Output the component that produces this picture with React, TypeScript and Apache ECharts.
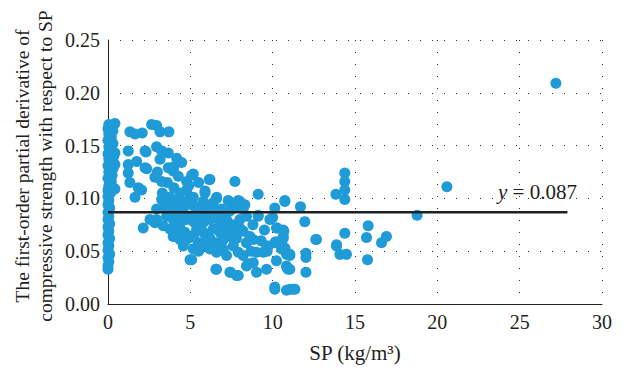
import React, { useEffect, useRef } from "react";
import * as echarts from "echarts";

// SP (kg/m3) vs first-order partial derivative — points near SP = 0
const columnPoints: [number, number][] = [
  [0, 0.033], [0, 0.036], [0.05, 0.04], [0, 0.044], [0.1, 0.047], [0, 0.051], [0.05, 0.055], [0, 0.058],
  [0.1, 0.062], [0, 0.065], [0.05, 0.069], [0, 0.073], [0.1, 0.076], [0, 0.08], [0.05, 0.083], [0, 0.087],
  [0.1, 0.091], [0, 0.094], [0.05, 0.098], [0, 0.102], [0.15, 0.105], [0, 0.108], [0.3, 0.11], [0.05, 0.112],
  [0.2, 0.116], [0, 0.119], [0.25, 0.122], [0.05, 0.125], [0.3, 0.128], [0, 0.131], [0.2, 0.134], [0.05, 0.137],
  [0.35, 0.14], [0, 0.142], [0.2, 0.146], [0.05, 0.149], [0.3, 0.152], [0, 0.155], [0.2, 0.158], [0.05, 0.161],
  [0.3, 0.164], [0, 0.166], [0.15, 0.169], [0.05, 0.17],
];

// main cloud of points
const mainPoints: [number, number][] = [
  [0.42, 0.171], [1.33, 0.163], [1.64, 0.161], [2.08, 0.162], [2.65, 0.17], [2.95, 0.169], [3.16, 0.163], [3.7, 0.163],
  [1.23, 0.145], [2.31, 0.144], [2.95, 0.149], [3.26, 0.145], [3.66, 0.143], [1.74, 0.135], [1.23, 0.132], [2.35, 0.128],
  [3.16, 0.137], [3.66, 0.129], [4.17, 0.138], [4.47, 0.134], [1.23, 0.124], [2.85, 0.12], [3.26, 0.116], [3.96, 0.126],
  [4.27, 0.121], [5.18, 0.123], [5.08, 0.122], [6.19, 0.118], [6.15, 0.118], [7.71, 0.116], [1.33, 0.115], [1.84, 0.11],
  [2.04, 0.108], [1.64, 0.101], [4.78, 0.116], [4.78, 0.108], [3.26, 0.099], [3.76, 0.101], [4.37, 0.105], [4.98, 0.101],
  [5.89, 0.107], [5.89, 0.105], [6.6, 0.101], [6.59, 0.1], [7.3, 0.098], [7.36, 0.097], [7.91, 0.098], [8.01, 0.097],
  [8.31, 0.094], [9.12, 0.104], [10.13, 0.091], [10.74, 0.098], [5.78, 0.097], [5.18, 0.101],
  [2.95, 0.09], [2.55, 0.08], [2.14, 0.072], [3.56, 0.083], [2.85, 0.077],
  [0.42, 0.143], [0.42, 0.132], [0.42, 0.109], [2.25, 0.129], [2.25, 0.145],
  [3.56, 0.09], [4.17, 0.093], [4.57, 0.09], [5.18, 0.093], [5.58, 0.086], [4.98, 0.083], [4.17, 0.083], [5.99, 0.09],
  [6.39, 0.096], [6.9, 0.09], [7.4, 0.088], [7.81, 0.093], [8.21, 0.09], [3.36, 0.074], [2.95, 0.08],
  [3.96, 0.08], [4.37, 0.075], [4.77, 0.08], [4.17, 0.071], [4.67, 0.068], [4.98, 0.063], [5.38, 0.071], [5.78, 0.077],
  [6.19, 0.08], [5.58, 0.058], [5.99, 0.064], [6.39, 0.071], [6.8, 0.077], [7.2, 0.08], [7.61, 0.075], [8.01, 0.08],
  [8.41, 0.083], [7.81, 0.068], [8.21, 0.069], [8.62, 0.064], [7.0, 0.061], [7.4, 0.064], [6.59, 0.058], [6.19, 0.052],
  [7.0, 0.052], [7.61, 0.055], [8.41, 0.058], [8.82, 0.061], [5.18, 0.052], [5.48, 0.057], [5.78, 0.055],
  [9.12, 0.083], [9.12, 0.084], [9.83, 0.08], [10.0, 0.082], [10.23, 0.072], [10.27, 0.072], [10.64, 0.064], [10.68, 0.069],
  [9.73, 0.055], [10.13, 0.058], [10.19, 0.059], [10.54, 0.052], [10.84, 0.047], [4.98, 0.042], [5.08, 0.042],
  [6.59, 0.049], [6.59, 0.033], [6.55, 0.033], [7.4, 0.03], [7.44, 0.03], [7.81, 0.027], [7.91, 0.027], [8.41, 0.036],
  [8.52, 0.038], [8.82, 0.039], [9.02, 0.03], [9.63, 0.033], [10.23, 0.041], [10.84, 0.036], [10.88, 0.034],
  [10.13, 0.014], [10.13, 0.016], [10.84, 0.013], [11.04, 0.014], [11.25, 0.014], [11.35, 0.014],
  [9.43, 0.049], [7.91, 0.049], [7.2, 0.046], [8.21, 0.046], [9.02, 0.049], [8.68, 0.05], [9.67, 0.05], [9.63, 0.055],
  [10.74, 0.053], [11.04, 0.047], [4.37, 0.061], [4.57, 0.055], [3.96, 0.064], [3.76, 0.071],
  [10.74, 0.097], [11.69, 0.092], [11.95, 0.078], [10.64, 0.07], [10.64, 0.062], [10.74, 0.052], [11.04, 0.046],
  [10.94, 0.033], [11.04, 0.033], [12.02, 0.048], [12.02, 0.044], [12.02, 0.03], [12.62, 0.061], [12.66, 0.061],
  [3.5, 0.095], [4.0, 0.098], [4.5, 0.097], [5.0, 0.095], [5.5, 0.092], [6.0, 0.085], [6.5, 0.088], [7.0, 0.085],
  [4.5, 0.085], [5.2, 0.078], [5.5, 0.08], [6.5, 0.082], [3.8, 0.088], [4.3, 0.068], [5.2, 0.065], [5.8, 0.068],
  [6.8, 0.068], [7.2, 0.07], [6.2, 0.062], [4.7, 0.06], [5.5, 0.05], [6.0, 0.058], [7.8, 0.062], [8.0, 0.072],
  [9.5, 0.07], [9.3, 0.06], [8.8, 0.075], [3.3, 0.105], [4.0, 0.11], [4.9, 0.112], [5.5, 0.115], [3.0, 0.125],
  [4.0, 0.13], [3.6, 0.115],
];

// sparse points at larger SP
const outerPoints: [number, number][] = [
  [13.88, 0.055], [13.88, 0.056], [14.08, 0.047], [14.48, 0.047], [14.38, 0.067], [13.84, 0.104], [14.38, 0.124],
  [14.38, 0.116], [14.38, 0.108], [14.38, 0.099], [15.8, 0.074], [15.7, 0.063], [15.76, 0.042], [16.61, 0.058],
  [16.91, 0.064], [18.77, 0.084], [20.58, 0.111], [27.2, 0.209],
];

const meanValue = 0.087;
const meanLineSpan: [number, number] = [0, 27.9];
const xTicks = { min: 0, max: 30, interval: 5 };
const yTicks = { min: 0, max: 0.25, interval: 0.05 };

const SERIF = "Liberation Serif";
const TEXT = "#231f20";

export default function App() {
  const ref = useRef<HTMLDivElement>(null);
  useEffect(() => {
    if (!ref.current) return;
    const chart = echarts.init(ref.current, undefined, { renderer: "svg" });
    const dotted = { color: "#333", width: 1, type: [1, 11] as any };
    chart.setOption({
      animation: false,
      backgroundColor: "#fff",
      grid: { left: 108, right: 23, top: 40, bottom: 63 },
      xAxis: {
        type: "value",
        ...xTicks,
        name: "SP (kg/m³)",
        nameLocation: "middle",
        nameGap: 38,
        nameTextStyle: { fontFamily: SERIF, fontSize: 21, color: TEXT },
        axisLine: { show: true, onZero: false, lineStyle: { color: TEXT, width: 1 } },
        axisTick: { show: false },
        axisLabel: { fontFamily: SERIF, fontSize: 20, color: TEXT, margin: 8 },
        splitLine: { show: true, lineStyle: dotted },
      },
      yAxis: {
        type: "value",
        ...yTicks,
        axisLine: { show: true, onZero: false, lineStyle: { color: TEXT, width: 1 } },
        axisTick: { show: false },
        axisLabel: {
          fontFamily: SERIF, fontSize: 20, color: TEXT, margin: 8,
          formatter: (v: number) => v.toFixed(2),
        },
        splitLine: { show: true, lineStyle: dotted },
      },
      graphic: [
        {
          type: "text",
          x: 34,
          y: 166,
          rotation: Math.PI / 2,
          style: {
            text: "The first-order partial derivative of\ncompressive strength with respect to SP",
            fontFamily: SERIF,
            fontSize: 19.5,
            fill: TEXT,
            align: "center",
            verticalAlign: "middle",
            lineHeight: 23,
          },
        },
        {
          type: "text",
          x: 498,
          y: 192,
          style: {
            text: "{i|y} = 0.087",
            fontFamily: SERIF,
            fontSize: 21,
            fill: TEXT,
            align: "left",
            verticalAlign: "middle",
            rich: { i: { fontStyle: "italic", fontFamily: SERIF, fontSize: 21, fill: TEXT } },
          },
        },
      ],
      series: [
        {
          type: "scatter",
          data: [...columnPoints, ...mainPoints, ...outerPoints],
          symbolSize: 11,
          itemStyle: { color: "#1f9bd8", opacity: 1 },
          z: 2,
        },
        {
          type: "line",
          data: [[meanLineSpan[0], meanValue], [meanLineSpan[1], meanValue]],
          symbol: "none",
          lineStyle: { color: TEXT, width: 2.5 },
          z: 3,
        },
      ],
    });
    return () => chart.dispose();
  }, []);
  return <div ref={ref} style={{ position: "fixed", left: 0, top: 0, width: 625, height: 368 }} />;
}
